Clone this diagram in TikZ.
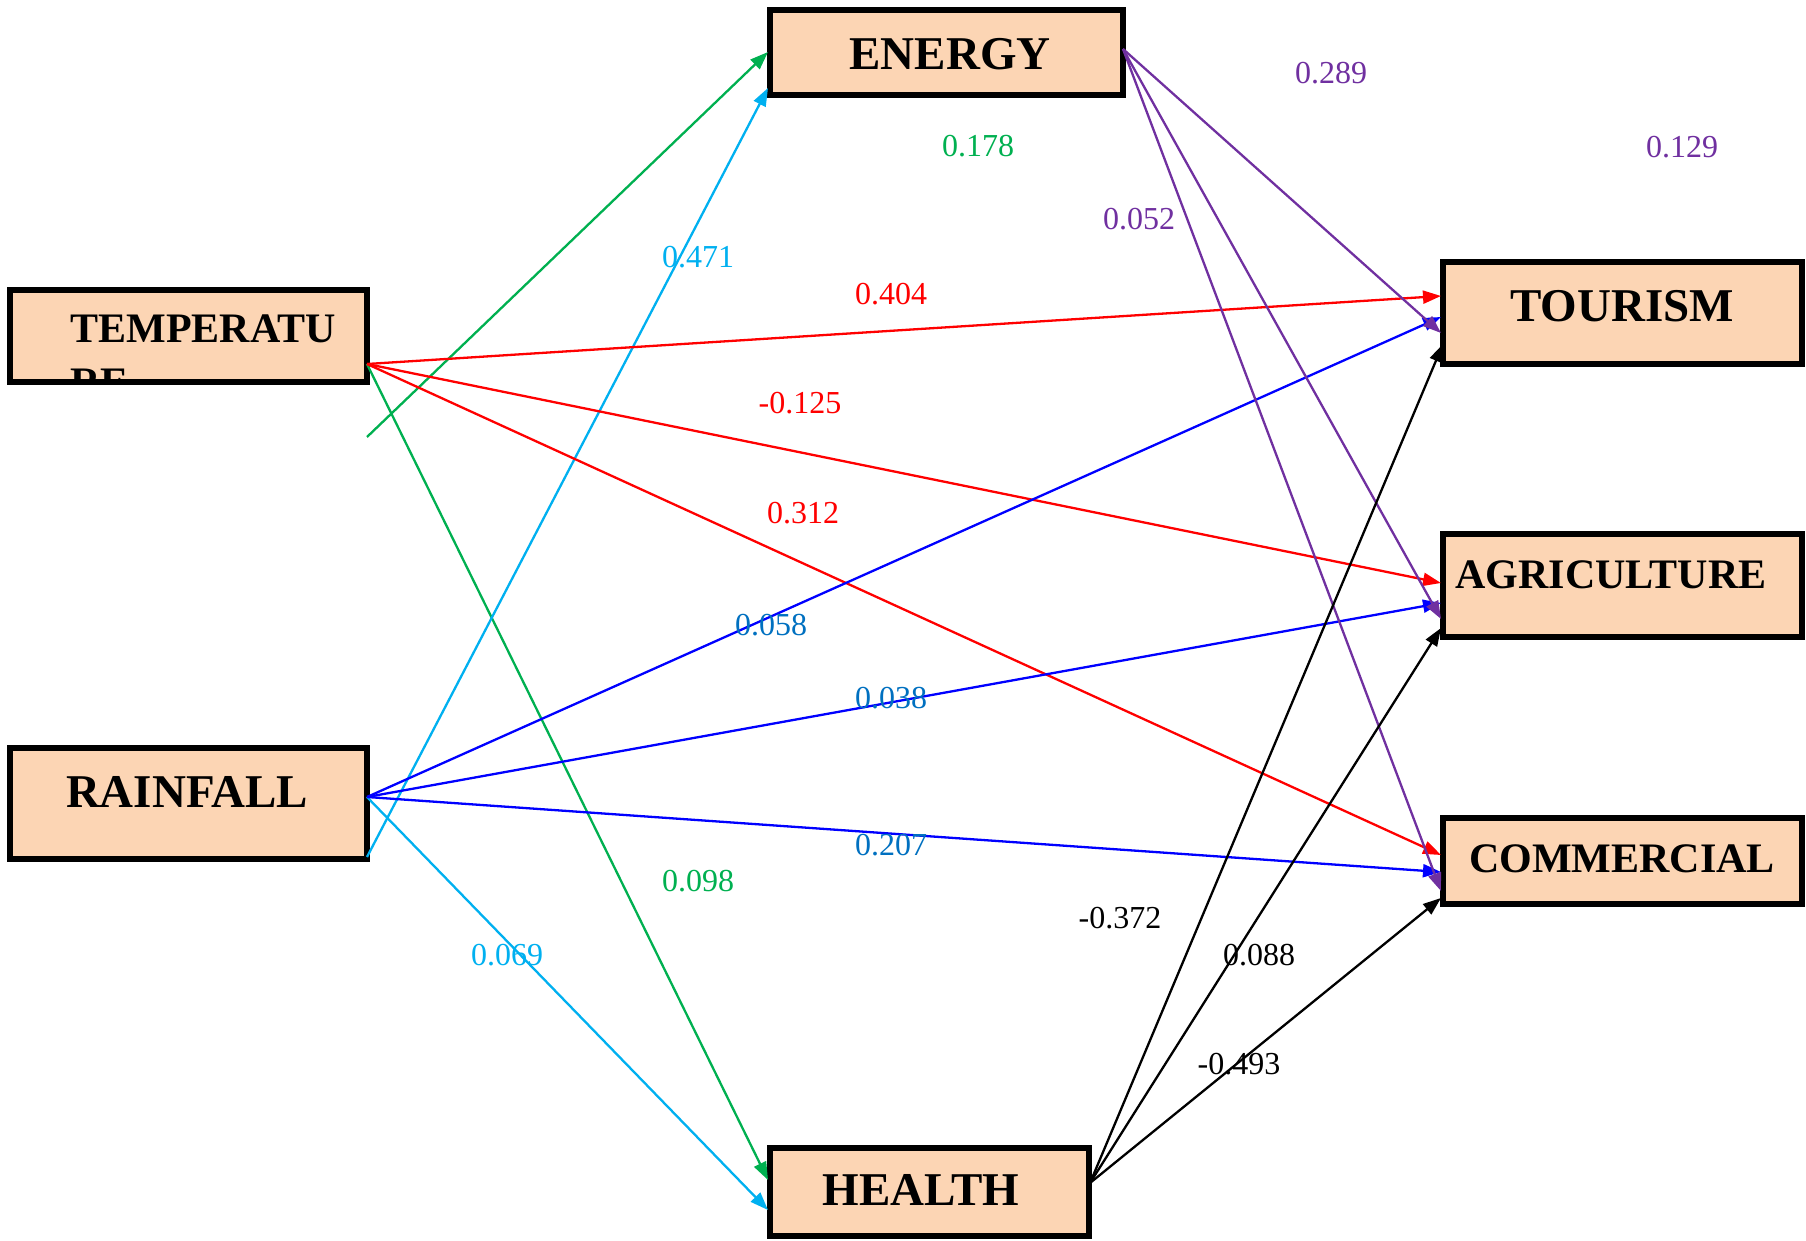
\documentclass[tikz,border=0pt]{standalone}
\usepackage{fontspec}
\setmainfont{Liberation Serif}
\usetikzlibrary{arrows.meta}
\definecolor{peach}{RGB}{252,213,180}
\definecolor{cgreen}{RGB}{0,176,80}
\definecolor{ccyan}{RGB}{0,176,240}
\definecolor{cblue}{RGB}{0,0,255}
\definecolor{cred}{RGB}{255,0,0}
\definecolor{cpurple}{RGB}{112,48,160}
\definecolor{clab}{RGB}{0,112,192}
\begin{document}
\begin{tikzpicture}[x=0.5pt,y=-0.5pt,
 box/.style={draw=black, line width=3pt, fill=peach, inner sep=0pt, outer sep=0pt},
 big/.style={font=\fontsize{23.5}{28}\selectfont\bfseries, anchor=base, inner sep=0pt},
 mid/.style={font=\fontsize{21}{25}\selectfont\bfseries, anchor=base, inner sep=0pt},
 lab/.style={font=\fontsize{16}{19}\selectfont, inner sep=0pt},
 conn/.style={line width=1.15pt, -{Triangle[length=9pt,width=6.5pt]}},
]
\useasboundingbox (0,0) rectangle (1806,1241);

% boxes
\node[box, minimum width={353*0.5pt}, minimum height={85*0.5pt}] (energy) at (946.5,52.5) {};
\node[big] (energyt) at (950,70) {ENERGY};

\fill[peach] (10,290) rectangle (367,382);
\begin{scope}
\clip (10,290) rectangle (367,382);
\node[mid, anchor=base west] (tempt) at (70,343) {TEMPERATU};
\node[mid, anchor=base west] (tempt2) at (70,397) {RE};
\end{scope}
\node[box, fill=none, minimum width={357*0.5pt}, minimum height={92*0.5pt}] (temp) at (188.5,336) {};

\node[box, minimum width={357*0.5pt}, minimum height={111*0.5pt}] (rain) at (188.5,803.5) {};
\node[big] (raint) at (187,807) {RAINFALL};

\node[box, minimum width={359*0.5pt}, minimum height={102*0.5pt}] (tour) at (1622.5,313) {};
\node[big] (tourt) at (1622,322) {TOURISM};

\node[box, minimum width={359*0.5pt}, minimum height={103*0.5pt}] (agri) at (1622.5,585.5) {};
\node[mid, anchor=base west] (agrit) at (1455,588) {AGRICULTURE};

\node[box, minimum width={359*0.5pt}, minimum height={86*0.5pt}] (comm) at (1622.5,861) {};
\node[mid] (commt) at (1622,872) {COMMERCIAL};

\node[box, minimum width={319*0.5pt}, minimum height={88*0.5pt}] (health) at (929.5,1192) {};
\node[big] (healtht) at (921,1205) {HEALTH};

% connector coordinates
\coordinate (tS) at (367,364);
\coordinate (tG) at (367,437);
\coordinate (rS) at (367,797);
\coordinate (rC) at (367,857);
\coordinate (eS) at (1123,49);
\coordinate (hS) at (1090,1183);

\coordinate (eG) at (768,52);
\coordinate (eC) at (768,88);
\coordinate (hG) at (768,1180);
\coordinate (hC) at (768,1210);

\coordinate (tou1) at (1441,296);
\coordinate (tou2) at (1441,317);
\coordinate (tou3) at (1441,333);
\coordinate (tou4) at (1443,344);
\coordinate (agr1) at (1441,583);
\coordinate (agr2) at (1441,603);
\coordinate (agr3) at (1441,619);
\coordinate (agr4) at (1441,628);
\coordinate (com1) at (1441,855);
\coordinate (com2) at (1441,872);
\coordinate (com3) at (1441,891);
\coordinate (com4) at (1441,898);

% connectors
\draw[conn,cgreen] (tG) -- (eG);
\draw[conn,cgreen] (tS) -- (hG);
\draw[conn,ccyan] (rC) -- (eC);
\draw[conn,ccyan] (rS) -- (hC);

\draw[conn,cred] (tS) -- (tou1);
\draw[conn,cred] (tS) -- (agr1);
\draw[conn,cred] (tS) -- (com1);

\draw[conn,cblue] (rS) -- (tou2);
\draw[conn,cblue] (rS) -- (agr2);
\draw[conn,cblue] (rS) -- (com2);

\draw[conn,cpurple] (eS) -- (tou3);
\draw[conn,cpurple] (eS) -- (agr3);
\draw[conn,cpurple] (eS) -- (com3);

\draw[conn,black] (hS) -- (tou4);
\draw[conn,black] (hS) -- (agr4);
\draw[conn,black] (hS) -- (com4);

% labels
\node[lab, text=cpurple] (l1) at (1331,73) {0.289};
\node[lab, text=cpurple] (l2) at (1682,147) {0.129};
\node[lab, text=cgreen] (l3) at (978,146) {0.178};
\node[lab, text=cpurple] (l4) at (1139,219) {0.052};
\node[lab, text=ccyan] (l5) at (698,257) {0.471};
\node[lab, text=cred] (l6) at (891,294) {0.404};
\node[lab, text=cred] (l7) at (800,403) {-0.125};
\node[lab, text=cred] (l8) at (803,513) {0.312};
\node[lab, text=clab] (l9) at (771,625) {0.058};
\node[lab, text=clab] (l10) at (891,698) {0.038};
\node[lab, text=clab] (l11) at (891,845) {0.207};
\node[lab, text=cgreen] (l12) at (698,881) {0.098};
\node[lab, text=ccyan] (l13) at (507,955) {0.069};
\node[lab, text=black] (l14) at (1120,918) {-0.372};
\node[lab, text=black] (l15) at (1259,955) {0.088};
\node[lab, text=black] (l16) at (1239,1064) {-0.493};
\end{tikzpicture}
\end{document}
